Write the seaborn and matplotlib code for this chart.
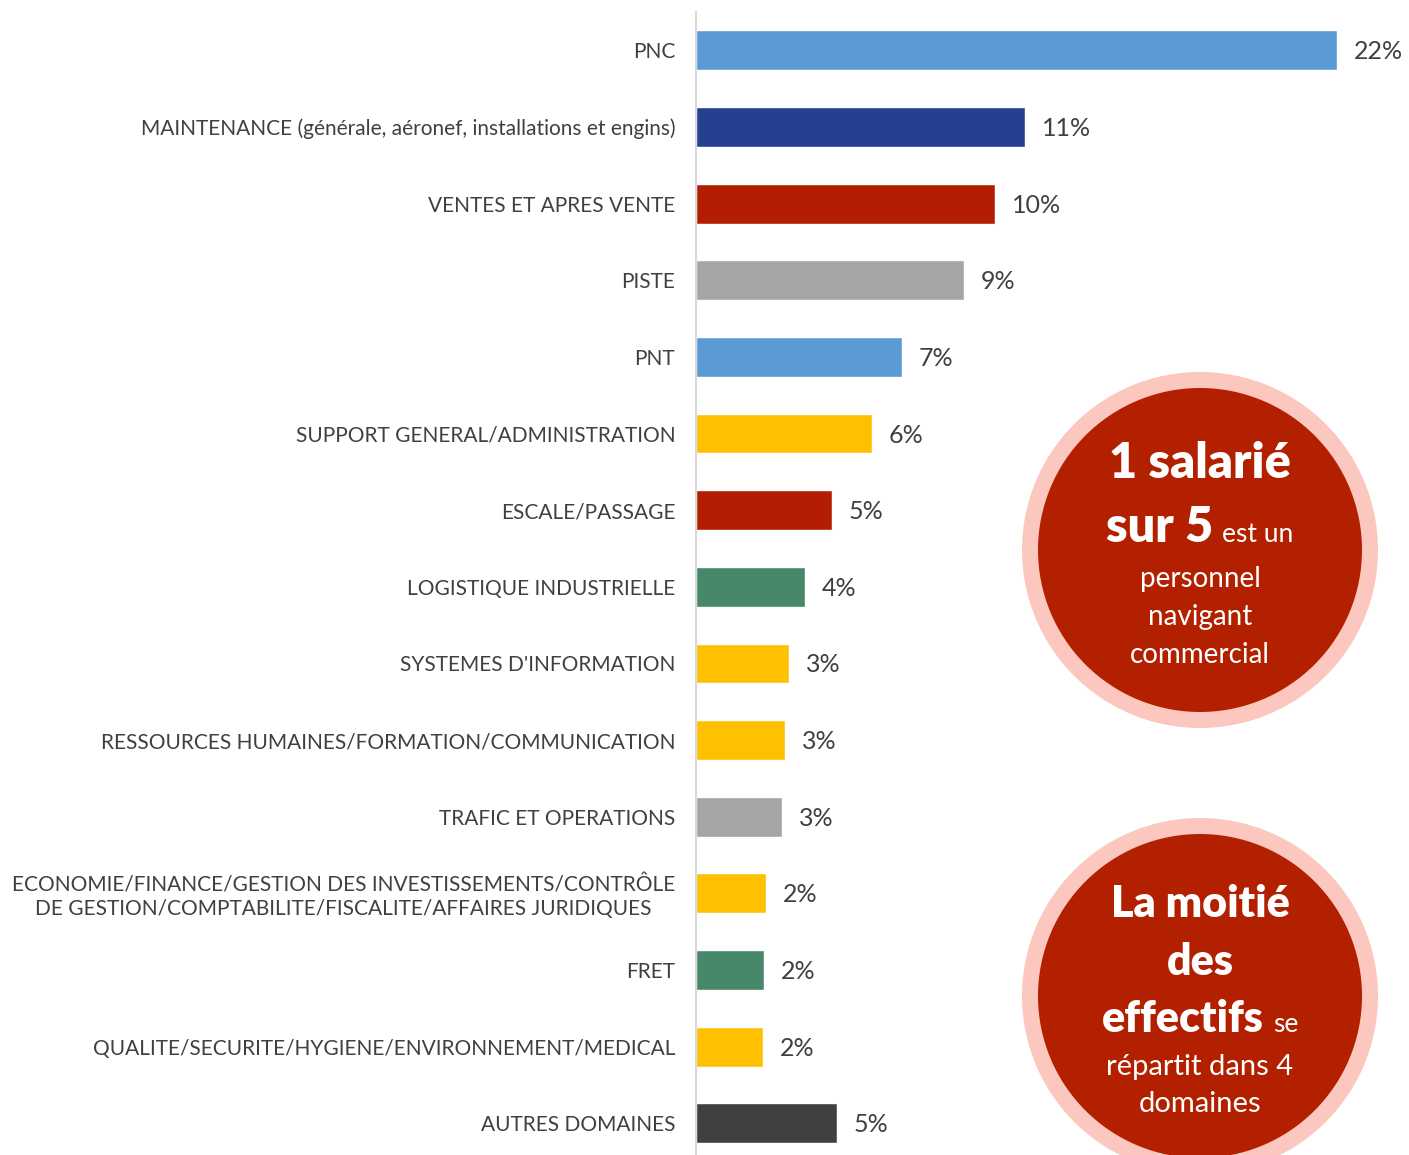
import matplotlib
matplotlib.use("Agg")
import matplotlib.pyplot as plt
import seaborn as sns
import pandas as pd
from matplotlib.patches import Circle

# Répartition des effectifs par domaine (en %)
categories = [
    "PNC",
    "MAINTENANCE (générale, aéronef, installations et engins)",
    "VENTES ET APRES VENTE",
    "PISTE",
    "PNT",
    "SUPPORT GENERAL/ADMINISTRATION",
    "ESCALE/PASSAGE",
    "LOGISTIQUE INDUSTRIELLE",
    "SYSTEMES D'INFORMATION",
    "RESSOURCES HUMAINES/FORMATION/COMMUNICATION",
    "TRAFIC ET OPERATIONS",
    "ECONOMIE/FINANCE/GESTION DES INVESTISSEMENTS/CONTRÔLE\nDE GESTION/COMPTABILITE/FISCALITE/AFFAIRES JURIDIQUES",
    "FRET",
    "QUALITE/SECURITE/HYGIENE/ENVIRONNEMENT/MEDICAL",
    "AUTRES DOMAINES",
]
shares = [21.99, 11.27, 10.24, 9.18, 7.06, 6.03, 4.66, 3.73, 3.19, 3.05,
          2.95, 2.40, 2.33, 2.30, 4.83]
bar_colors = [
    "#5B9BD5", "#25408F", "#B31E02", "#A5A5A5", "#5B9BD5",
    "#FFC000", "#B31E02", "#47876A", "#FFC000", "#FFC000",
    "#A5A5A5", "#FFC000", "#47876A", "#FFC000", "#404040",
]

TEXT = "#404040"
DARK_RED = "#B32000"
PINK = "#FCC7BE"

sns.set_theme(style="white")
plt.rcParams["font.family"] = ["Lato", "DejaVu Sans"]

W, H = 1409, 1155
fig = plt.figure(figsize=(W / 100, H / 100), dpi=100)
fig.patch.set_facecolor("white")

ax = fig.add_axes([696 / W, -0.0057, 700 / W, 0.9953])
df = pd.DataFrame({"domaine": categories, "part": shares})
sns.barplot(data=df, x="part", y="domaine", hue="domaine",
            palette=dict(zip(categories, bar_colors)), saturation=1,
            width=0.52, legend=False, ax=ax)

ax.set_xlim(0, 24)
ax.set_ylim(len(categories) - 0.5, -0.5)
ax.set_xticks([])
ax.set_xlabel("")
ax.set_ylabel("")
for side in ("top", "right", "bottom"):
    ax.spines[side].set_visible(False)
ax.spines["left"].set_color("#D9D9D9")
ax.spines["left"].set_linewidth(1.5)
ax.tick_params(axis="y", length=0, pad=15, labelsize=15, labelcolor=TEXT)
for lab in ax.get_yticklabels():
    lab.set_multialignment("center")
    lab.set_linespacing(1.2)

for i, v in enumerate(shares):
    ax.text(v + 0.58, i + 0.02, f"{v:.0f}%", va="center", ha="left",
            fontsize=18, color=TEXT)

# Encadrés circulaires (coordonnées en pixels)
ov = fig.add_axes([0, 0, 1, 1])
ov.set_xlim(0, W)
ov.set_ylim(H, 0)
ov.axis("off")
ov.patch.set_alpha(0)

renderer = fig.canvas.get_renderer()


def line(y, parts, cx=1200, gap=9):
    """Write a centred line made of several differently styled chunks."""
    texts = []
    widths = []
    for s, size, weight in parts:
        t = ov.text(0, y, s, fontsize=size, fontweight=weight, color="white",
                    ha="left", va="baseline")
        texts.append(t)
        widths.append(t.get_window_extent(renderer).width)
    total = sum(widths) + gap * (len(parts) - 1)
    x = cx - total / 2
    for t, w in zip(texts, widths):
        t.set_x(x)
        x += w + gap


for cy in (550, 996):
    ov.add_patch(Circle((1200, cy), 178, color=PINK, lw=0, clip_on=False))
    ov.add_patch(Circle((1200, cy), 162, color=DARK_RED, lw=0, clip_on=False))

line(478, [("1 salarié", 35, "heavy")])
line(542, [("sur 5", 35, "heavy"), ("est un", 19, "normal")])
line(587, [("personnel", 20, "normal")])
line(625, [("navigant", 20, "normal")])
line(663, [("commercial", 20, "normal")])

line(917, [("La moitié", 31, "heavy")])
line(975, [("des", 31, "heavy")])
line(1032, [("effectifs", 31, "heavy"), ("se", 19, "normal")])
line(1075, [("répartit dans 4", 21, "normal")])
line(1112, [("domaines", 21, "normal")])

fig.savefig("out.png", dpi=100, facecolor="white")
